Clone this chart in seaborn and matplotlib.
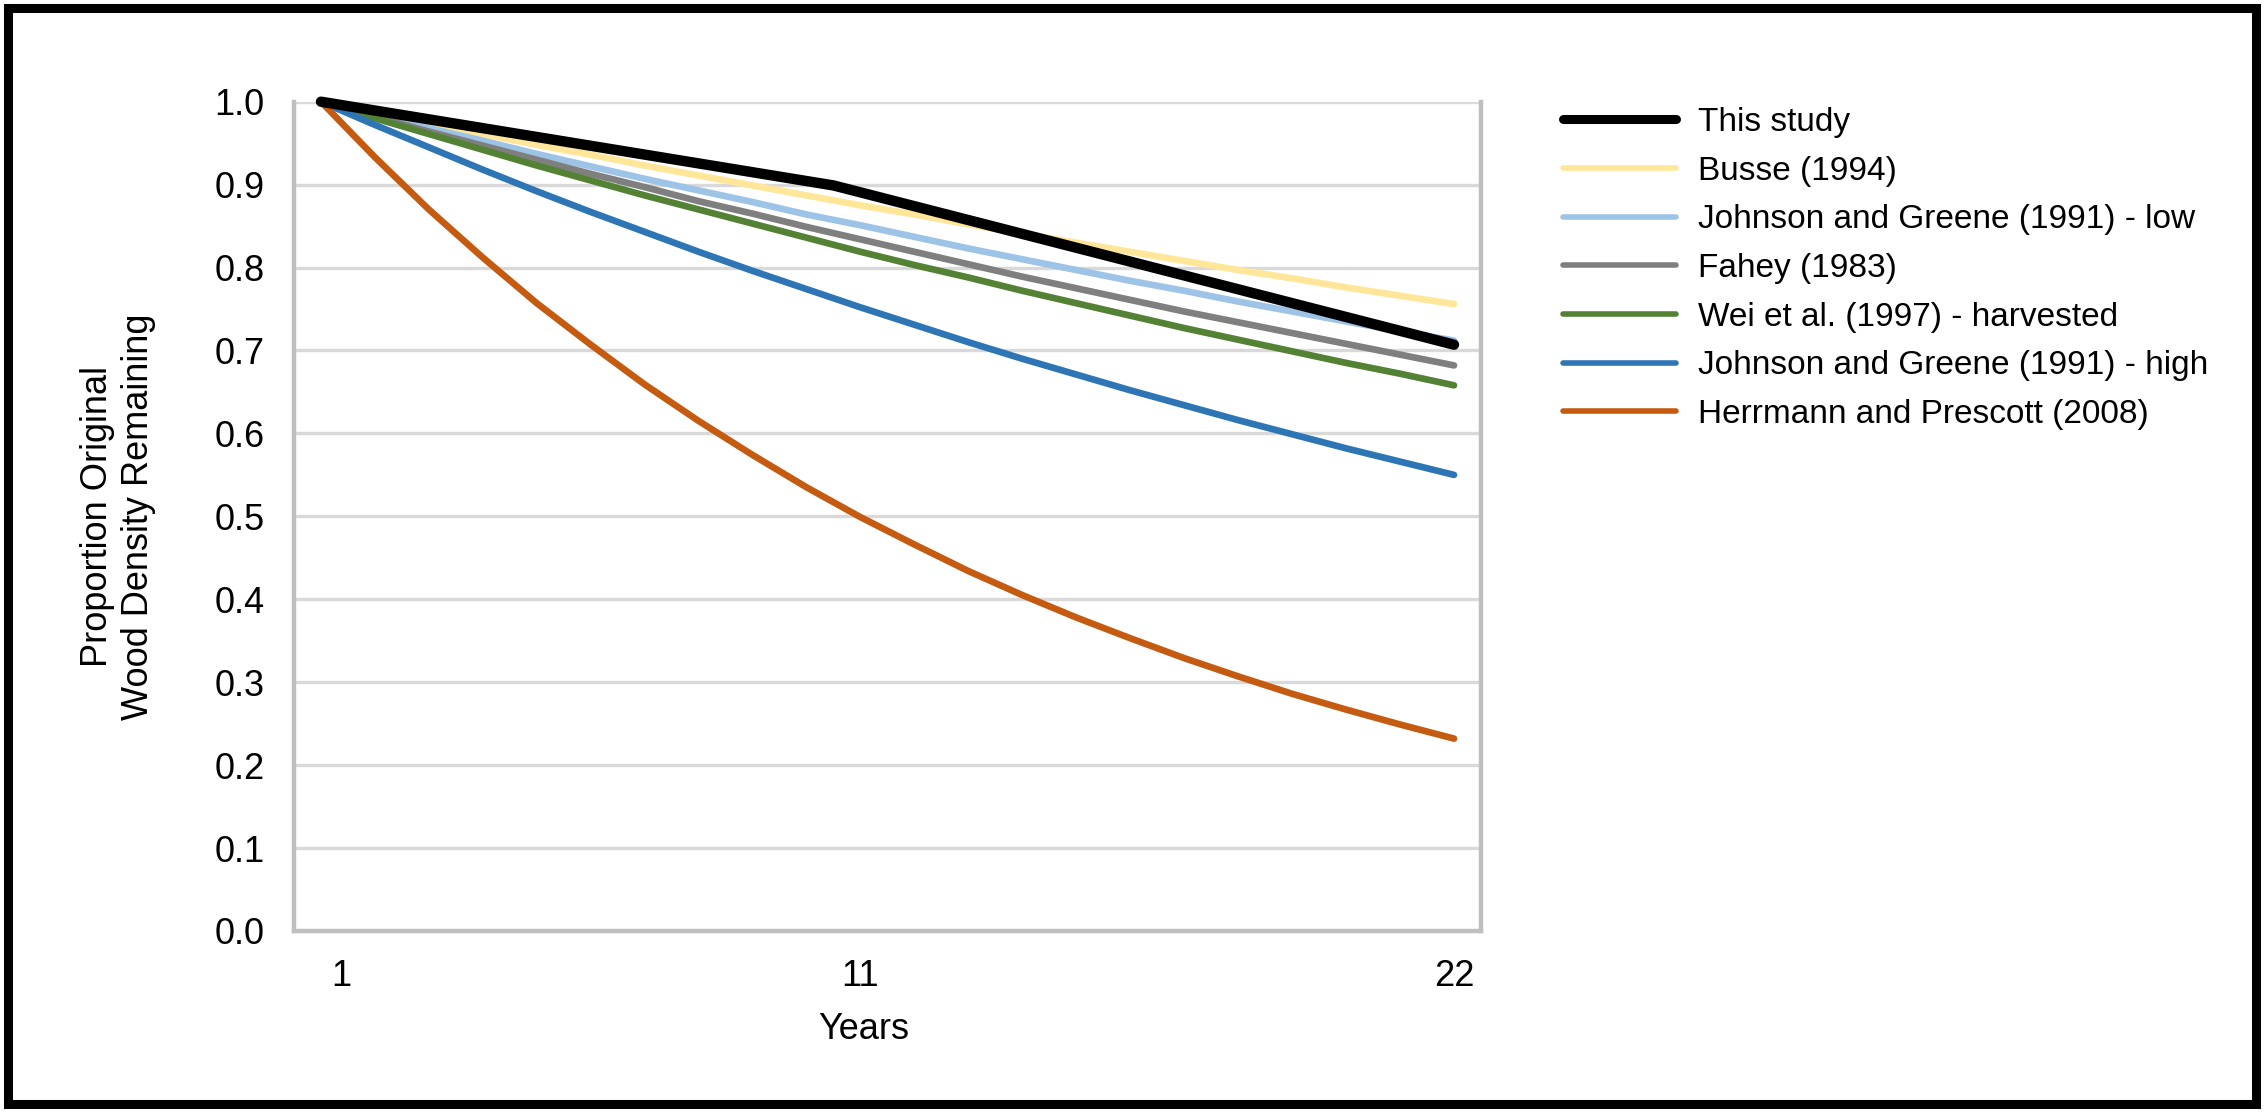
import matplotlib
matplotlib.use("Agg")
import matplotlib.pyplot as plt
import matplotlib.transforms as mtransforms
from matplotlib.patches import Rectangle
import seaborn as sns
import pandas as pd

# ---------------- data ----------------
years = list(range(1, 23))

this_study_years = [1, 10.5, 22]
this_study = [1.000, 0.899, 0.707]

busse_1994 = [1.000, 0.987, 0.974, 0.961, 0.948, 0.936, 0.923, 0.911, 0.899, 0.887, 0.875,
              0.864, 0.852, 0.841, 0.830, 0.819, 0.808, 0.797, 0.787, 0.776, 0.766, 0.756]
johnson_low = [1.000, 0.984, 0.968, 0.953, 0.937, 0.922, 0.907, 0.893, 0.879, 0.864, 0.851,
               0.837, 0.823, 0.810, 0.797, 0.784, 0.772, 0.759, 0.747, 0.735, 0.723, 0.712]
fahey_1983 = [1.000, 0.982, 0.964, 0.947, 0.930, 0.913, 0.897, 0.880, 0.865, 0.849, 0.834,
              0.819, 0.804, 0.789, 0.775, 0.761, 0.747, 0.734, 0.721, 0.708, 0.695, 0.682]
wei_harvested = [1.000, 0.980, 0.961, 0.942, 0.923, 0.905, 0.887, 0.870, 0.853, 0.836, 0.819,
                 0.803, 0.788, 0.772, 0.757, 0.742, 0.727, 0.713, 0.699, 0.685, 0.672, 0.658]
johnson_high = [1.000, 0.972, 0.945, 0.918, 0.892, 0.867, 0.843, 0.819, 0.796, 0.774, 0.752,
                0.731, 0.710, 0.690, 0.671, 0.652, 0.634, 0.616, 0.599, 0.582, 0.566, 0.550]
herrmann_2008 = [1.000, 0.933, 0.870, 0.812, 0.757, 0.707, 0.659, 0.615, 0.574, 0.535, 0.499,
                 0.466, 0.434, 0.405, 0.378, 0.353, 0.329, 0.307, 0.286, 0.267, 0.249, 0.232]

series_names = ["This study", "Busse (1994)", "Johnson and Greene (1991) - low", "Fahey (1983)",
                "Wei et al. (1997) - harvested", "Johnson and Greene (1991) - high",
                "Herrmann and Prescott (2008)"]
series_colors = ["#000000", "#FFE699", "#9DC3E6", "#7F7F7F", "#548235", "#2E75B6", "#C55A11"]

x_tick_values = [1, 11, 22]
x_tick_labels = ["1", "11", "22"]
y_tick_values = [0.0, 0.1, 0.2, 0.3, 0.4, 0.5, 0.6, 0.7, 0.8, 0.9, 1.0]

# ---------------- long-form table ----------------
frames = [pd.DataFrame({"Years": this_study_years, "value": this_study, "series": series_names[0]})]
for name, vals in zip(series_names[1:], [busse_1994, johnson_low, fahey_1983, wei_harvested,
                                         johnson_high, herrmann_2008]):
    frames.append(pd.DataFrame({"Years": years, "value": vals, "series": name}))
df = pd.concat(frames, ignore_index=True)

# ---------------- style ----------------
sns.set_style("white")
plt.rcParams["font.family"] = ["Liberation Sans", "DejaVu Sans"]
plt.rcParams["text.color"] = "black"
plt.rcParams["axes.labelcolor"] = "black"
FS = 26

W, H, DPI = 2264, 1112, 100
fig = plt.figure(figsize=(W / DPI, H / DPI), dpi=DPI)
ax = fig.add_axes([294 / W, 1 - 931 / H, (1481 - 294) / W, (931 - 101.7) / H])

palette = dict(zip(series_names, series_colors))
draw_order = series_names[1:] + series_names[:1]
for i, name in enumerate(draw_order):
    sub = df[df["series"] == name]
    lw = 7.5 if name == "This study" else 4.8
    sns.lineplot(data=sub, x="Years", y="value", color=palette[name], lw=lw, ax=ax,
                 label=name, zorder=3 + i, clip_on=False, solid_capstyle="round",
                 solid_joinstyle="round", legend=False)

ax.set_xlim(0.5, 22.5)
ax.set_ylim(0, 1)
ax.set_xticks(x_tick_values)
ax.set_xticklabels(x_tick_labels)
ax.set_yticks(y_tick_values)
ax.set_yticklabels([f"{v:.1f}" for v in y_tick_values])
ax.tick_params(axis="both", length=0, labelsize=FS, colors="black")
ax.tick_params(axis="x", pad=20)
ax.tick_params(axis="y", pad=21)

# shift the first x label slightly right as in the reference
lbl0 = ax.get_xticklabels()[0]
lbl0.set_transform(lbl0.get_transform() + mtransforms.ScaledTranslation(0.2, 0, fig.dpi_scale_trans))

ax.yaxis.grid(True, color="#D9D9D9", lw=2.4, zorder=0)
ax.xaxis.grid(False)
ax.set_axisbelow(True)
for side in ["left", "bottom", "right"]:
    ax.spines[side].set_visible(True)
    ax.spines[side].set_color("#BFBFBF")
    ax.spines[side].set_linewidth(3.2)
ax.spines["top"].set_visible(False)

ax.set_xlabel("Years", fontsize=FS, color="black")
ax.xaxis.set_label_coords(0.48, -0.119)
ax.xaxis.label.set_va("center")
ax.set_ylabel("Proportion Original\nWood Density Remaining", fontsize=FS, linespacing=1.2,
              color="black")
ax.yaxis.set_label_coords((118 - 294) / (1481 - 294), 0.5)
ax.yaxis.label.set_va("center")

# legend in reference order
handles, labels = ax.get_legend_handles_labels()
hmap = dict(zip(labels, handles))
leg = fig.legend([hmap[n] for n in series_names], series_names, loc="upper left",
                 bbox_to_anchor=(1563 / W, 1 - 107 / H), frameon=False, fontsize=FS - 2,
                 borderpad=0, borderaxespad=0, handlelength=3.4, handletextpad=0.65,
                 labelspacing=0.53)
for t in leg.get_texts():
    t.set_color("black")
for h in leg.legend_handles:
    h.set_solid_capstyle("round")
    if h.get_color() == "#000000":
        h.set_linewidth(6.5)
    else:
        h.set_linewidth(4.0)

# outer black frame
fig.patches.append(Rectangle((8 / W, 8 / H), (2256 - 8) / W, (1104 - 8) / H,
                             transform=fig.transFigure, fill=False, edgecolor="black",
                             lw=6.5, zorder=10))

fig.savefig("out.png", dpi=DPI, facecolor="white")
